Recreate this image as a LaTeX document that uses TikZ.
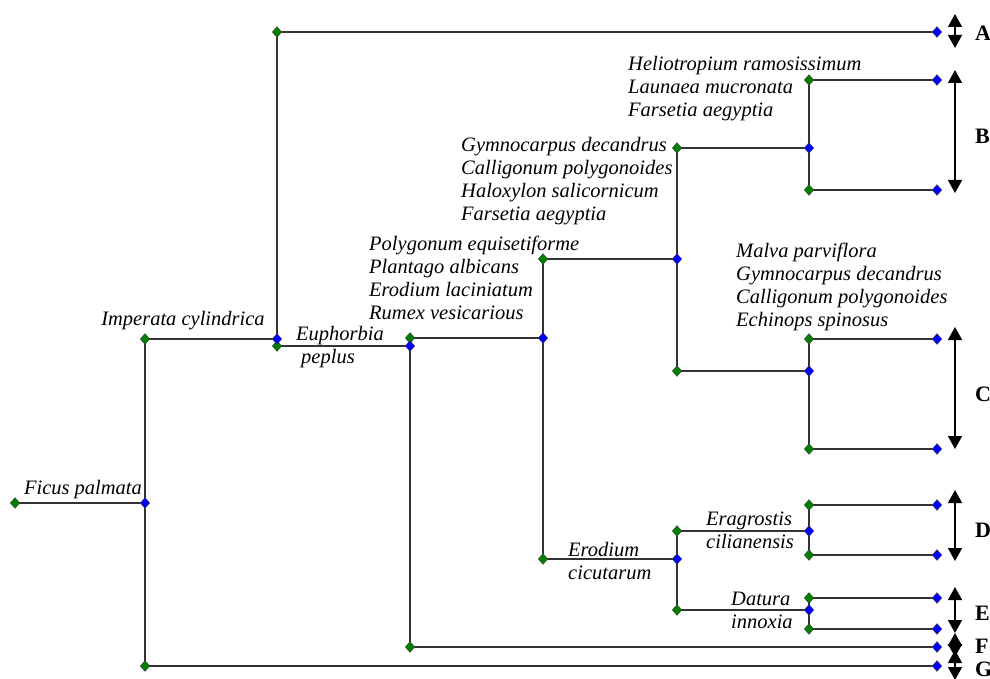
\documentclass[tikz,border=0pt]{standalone}
\usepackage{fontspec}
\setmainfont{Liberation Serif}
\usetikzlibrary{shapes.geometric,arrows.meta}
\definecolor{gdia}{RGB}{0,128,0}
\definecolor{bdia}{RGB}{0,0,255}
\begin{document}
\begin{tikzpicture}[x=1pt,y=-1pt,
  branch/.style={draw=black!80,line width=1.5pt},
  gnode/.style={diamond,draw=black!75,fill=gdia,minimum width=9.5pt,minimum height=11pt,inner sep=0pt,line width=0.4pt},
  bnode/.style={diamond,draw=black!75,fill=bdia,minimum width=9.5pt,minimum height=11pt,inner sep=0pt,line width=0.4pt},
  taxa/.style={font=\fontsize{20.5}{23}\selectfont\itshape,inner sep=0pt},
  grp/.style={font=\fontsize{22}{24}\selectfont\bfseries,inner sep=0pt,anchor=west},
  span/.style={draw=black,line width=1.4pt,{Triangle[width=14pt,length=13pt]}-{Triangle[width=14pt,length=13pt]}}]
\useasboundingbox (0,0) rectangle (990,679);
% coordinates
\coordinate (f0) at (15,503);  \coordinate (f1) at (145,503);
\coordinate (i0) at (145,339); \coordinate (i1) at (277,339);
\coordinate (g0) at (145,666); \coordinate (G) at (937,666);
\coordinate (a0) at (277,32);  \coordinate (A) at (937,32);
\coordinate (e0) at (277,346); \coordinate (e1) at (410,346);
\coordinate (p0) at (410,338); \coordinate (p1) at (543,338);
\coordinate (fF) at (410,647); \coordinate (F) at (937,647);
\coordinate (q0) at (543,259); \coordinate (q1) at (677,259);
\coordinate (r0) at (543,559); \coordinate (r1) at (677,559);
\coordinate (h0) at (677,148); \coordinate (h1) at (809,148);
\coordinate (m0) at (677,371); \coordinate (m1) at (809,371);
\coordinate (b0) at (809,80);  \coordinate (B0) at (937,80);
\coordinate (b1) at (809,190); \coordinate (B1) at (937,190);
\coordinate (c0) at (809,339); \coordinate (C0) at (937,339);
\coordinate (c1) at (809,449); \coordinate (C1) at (937,449);
\coordinate (s0) at (677,531); \coordinate (s1) at (809,531);
\coordinate (t0) at (677,610); \coordinate (t1) at (809,610);
\coordinate (d0) at (809,505); \coordinate (D0) at (937,505);
\coordinate (d1) at (809,555); \coordinate (D1) at (937,555);
\coordinate (u0) at (809,598); \coordinate (E0) at (937,598);
\coordinate (u1) at (809,629); \coordinate (E1) at (937,629);
% branches
\draw[branch] (f0) -- (f1);
\draw[branch] (i0) -- (g0);
\draw[branch] (i0) -- (i1);
\draw[branch] (g0) -- (G);
\draw[branch] (a0) -- (e0);
\draw[branch] (a0) -- (A);
\draw[branch] (e0) -- (e1);
\draw[branch] (p0) -- (fF);
\draw[branch] (fF) -- (F);
\draw[branch] (p0) -- (p1);
\draw[branch] (q0) -- (r0);
\draw[branch] (q0) -- (q1);
\draw[branch] (r0) -- (r1);
\draw[branch] (h0) -- (m0);
\draw[branch] (h0) -- (h1);
\draw[branch] (m0) -- (m1);
\draw[branch] (b0) -- (b1);
\draw[branch] (b0) -- (B0);
\draw[branch] (b1) -- (B1);
\draw[branch] (c0) -- (c1);
\draw[branch] (c0) -- (C0);
\draw[branch] (c1) -- (C1);
\draw[branch] (s0) -- (t0);
\draw[branch] (s0) -- (s1);
\draw[branch] (t0) -- (t1);
\draw[branch] (d0) -- (d1);
\draw[branch] (d0) -- (D0);
\draw[branch] (d1) -- (D1);
\draw[branch] (u0) -- (u1);
\draw[branch] (u0) -- (E0);
\draw[branch] (u1) -- (E1);
% diamonds
\foreach \n in {f0,i0,g0,a0,e0,p0,fF,q0,r0,h0,m0,b0,b1,c0,c1,s0,t0,d0,d1,u0,u1}
  \node[gnode] (n\n) at (\n) {};
\foreach \n in {f1,i1,e1,p1,q1,r1,h1,m1,s1,t1,A,B0,B1,C0,C1,D0,D1,E0,E1,F,G}
  \node[bnode] (n\n) at (\n) {};
% taxa labels
\node[taxa] (lficus) at (83,490) {Ficus palmata};
\node[taxa] (limp) at (183,321) {Imperata cylindrica};
\node[taxa,align=left,anchor=west] (leup) at (296,347) {Euphorbia\\\hspace*{5pt}peplus};
\node[taxa,align=left,anchor=west] (lpoly) at (369,278) {Polygonum equisetiforme\\Plantago albicans\\Erodium laciniatum\\Rumex vesicarious};
\node[taxa,align=left,anchor=west] (lgym) at (461,181) {Gymnocarpus decandrus\\Calligonum polygonoides\\Haloxylon salicornicum\\Farsetia aegyptia};
\node[taxa,align=left,anchor=west] (lhel) at (628,89) {Heliotropium ramosissimum\\Launaea mucronata\\Farsetia aegyptia};
\node[taxa,align=left,anchor=west] (lmal) at (736,287) {Malva parviflora\\Gymnocarpus decandrus\\Calligonum polygonoides\\Echinops spinosus};
\node[taxa,align=left,anchor=west] (lero) at (568,561) {Erodium\\cicutarum};
\node[taxa,align=left,anchor=west] (lera) at (706,530) {Eragrostis\\cilianensis};
\node[taxa,align=left,anchor=west] (ldat) at (731,610) {Datura\\innoxia};
% group spans
\coordinate (sAt) at (955,14);  \coordinate (sAb) at (955,48);
\coordinate (sBt) at (955,70);  \coordinate (sBb) at (955,193);
\coordinate (sCt) at (955,327); \coordinate (sCb) at (955,449);
\coordinate (sDt) at (955,490); \coordinate (sDb) at (955,561);
\coordinate (sEt) at (955,587); \coordinate (sEb) at (955,633);
\coordinate (sFt) at (955,633); \coordinate (sFb) at (955,657);
\coordinate (sGt) at (955,650); \coordinate (sGb) at (955,680);
\draw[span] (sAt) -- (sAb);
\draw[span] (sBt) -- (sBb);
\draw[span] (sCt) -- (sCb);
\draw[span] (sDt) -- (sDb);
\draw[span] (sEt) -- (sEb);
\draw[span] (sFt) -- (sFb);
\draw[span] (sGt) -- (sGb);
\node[grp] (gA) at (975,33) {A};
\node[grp] (gB) at (975,136) {B};
\node[grp] (gC) at (975,394) {C};
\node[grp] (gD) at (975,530) {D};
\node[grp] (gE) at (975,613) {E};
\node[grp] (gF) at (975,646) {F};
\node[grp] (gG) at (975,669) {G};
\end{tikzpicture}
\end{document}
